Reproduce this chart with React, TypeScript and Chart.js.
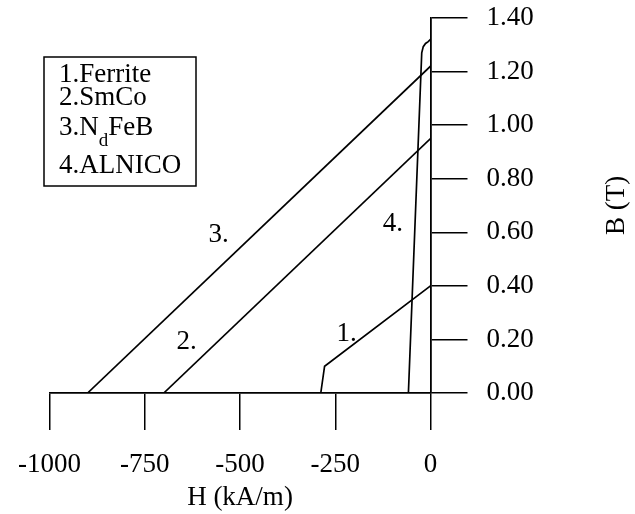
import React, { useEffect, useRef } from 'react';
import { Chart, registerables } from 'chart.js';

Chart.register(...registerables);

// ---- data (H in kA/m, B in T) ----
const ferriteH = [-288, -278, 0];
const ferriteB = [0, 0.1, 0.4];
const smcoH = [-700, 0];
const smcoB = [0, 0.95];
const ndfebH = [-900, 0];
const ndfebB = [0, 1.22];
const alnicoH = [-58, -23, -19, -13, -6, 0];
const alnicoB = [0, 1.27, 1.293, 1.305, 1.312, 1.32];

const xTickValues = [-1000, -750, -500, -250, 0];
const yTickValues = [0, 0.2, 0.4, 0.6, 0.8, 1.0, 1.2, 1.4];

const legendItems = ['1.Ferrite', '2.SmCo', '3.N_dFeB', '4.ALNICO'];
const curveLabels = ['1.', '2.', '3.', '4.'];
const curveLabelH = [-220, -640, -556, -99];
const curveLabelB = [0.22, 0.19, 0.592, 0.633];

const xTitle = 'H (kA/m)';
const yTitle = 'B (T)';

const FONT = '"Liberation Serif", "Times New Roman", serif';
const FS = 27;

const toPoints = (xs: number[], ys: number[]) => xs.map((x, i) => ({ x, y: ys[i] }));

const annotate = {
  id: 'annotate',
  afterDraw(chart: any) {
    const ctx = chart.ctx as CanvasRenderingContext2D;
    const xs = chart.scales.x;
    const ys = chart.scales.y;
    ctx.save();
    ctx.fillStyle = '#000';
    ctx.strokeStyle = '#000';

    // curve labels
    ctx.font = `${FS}px ${FONT}`;
    ctx.textAlign = 'center';
    ctx.textBaseline = 'middle';
    curveLabels.forEach((t, i) => {
      ctx.fillText(t, xs.getPixelForValue(curveLabelH[i]), ys.getPixelForValue(curveLabelB[i]));
    });

    // legend box
    const boxL = 44, boxT = 57, boxR = 196, boxB = 186;
    ctx.lineWidth = 1.5;
    ctx.strokeRect(boxL, boxT, boxR - boxL, boxB - boxT);
    const baselines = [82, 105, 135, 173];
    ctx.textAlign = 'left';
    ctx.textBaseline = 'alphabetic';
    legendItems.forEach((item, i) => {
      let x = 59;
      const y = baselines[i];
      const parts = item.split('_');
      ctx.font = `${FS}px ${FONT}`;
      ctx.fillText(parts[0], x, y);
      x += ctx.measureText(parts[0]).width;
      if (parts.length > 1) {
        const sub = parts[1].charAt(0);
        const rest = parts[1].slice(1);
        ctx.font = `19px ${FONT}`;
        ctx.fillText(sub, x, y + 11);
        x += ctx.measureText(sub).width;
        ctx.font = `${FS}px ${FONT}`;
        ctx.fillText(rest, x, y);
      }
    });

    // right axis title (reads bottom to top)
    ctx.font = `${FS}px ${FONT}`;
    ctx.textAlign = 'center';
    ctx.textBaseline = 'middle';
    ctx.translate(617, (ys.top + ys.bottom) / 2);
    ctx.rotate(-Math.PI / 2);
    ctx.fillText(yTitle, 0, 0);
    ctx.restore();
  },
};

export default function App() {
  const ref = useRef<HTMLCanvasElement | null>(null);

  useEffect(() => {
    if (!ref.current) return;
    const line = (xs: number[], ys: number[]) => ({
      data: toPoints(xs, ys),
      borderColor: '#000',
      backgroundColor: '#000',
      borderWidth: 1.7,
      pointRadius: 0,
      tension: 0,
      showLine: true,
      fill: false,
    });
    const chart = new Chart(ref.current, {
      type: 'scatter',
      data: {
        datasets: [
          line(ferriteH, ferriteB),
          line(smcoH, smcoB),
          line(ndfebH, ndfebB),
          line(alnicoH, alnicoB),
        ],
      },
      options: {
        animation: false,
        responsive: false,
        layout: { padding: { left: 49.5, top: 18, right: 0, bottom: 0 } },
        plugins: { legend: { display: false }, tooltip: { enabled: false }, title: { display: false } },
        scales: {
          x: {
            type: 'linear',
            position: 'bottom',
            min: -1000,
            max: 0,
            afterBuildTicks: (s: any) => {
              s.ticks = xTickValues.map((v) => ({ value: v }));
            },
            afterFit: (s: any) => {
              s.height = 121;
              s.paddingLeft = 0;
              s.paddingRight = 0;
            },
            grid: {
              display: true,
              drawOnChartArea: false,
              drawTicks: true,
              tickLength: 37,
              color: '#000',
              lineWidth: 1.5,
            },
            border: { display: true, color: '#000', width: 1.8 },
            ticks: {
              color: '#000',
              padding: 19,
              maxRotation: 0,
              autoSkip: false,
              font: { family: FONT, size: FS },
              callback: (v: any) => String(v),
            },
            title: {
              display: true,
              text: xTitle,
              color: '#000',
              font: { family: FONT, size: FS },
              padding: { top: 0, bottom: 0 },
            },
          },
          y: {
            type: 'linear',
            position: 'right',
            min: 0,
            max: 1.4,
            afterBuildTicks: (s: any) => {
              s.ticks = yTickValues.map((v) => ({ value: v }));
            },
            afterFit: (s: any) => {
              s.width = 204.5;
              s.paddingTop = 0;
              s.paddingBottom = 0;
            },
            grid: {
              display: true,
              drawOnChartArea: false,
              drawTicks: true,
              tickLength: 37,
              color: '#000',
              lineWidth: 1.5,
            },
            border: { display: true, color: '#000', width: 1.8 },
            ticks: {
              color: '#000',
              padding: 19,
              autoSkip: false,
              font: { family: FONT, size: FS },
              callback: (v: any) => Number(v).toFixed(2),
            },
            title: { display: false },
          },
        },
      },
      plugins: [annotate],
    });
    return () => chart.destroy();
  }, []);

  return (
    <div style={{ position: 'fixed', left: 0, top: 0, width: 635, height: 514, background: '#fff' }}>
      <canvas ref={ref} width={635} height={514} style={{ display: 'block', width: 635, height: 514 }} />
    </div>
  );
}
